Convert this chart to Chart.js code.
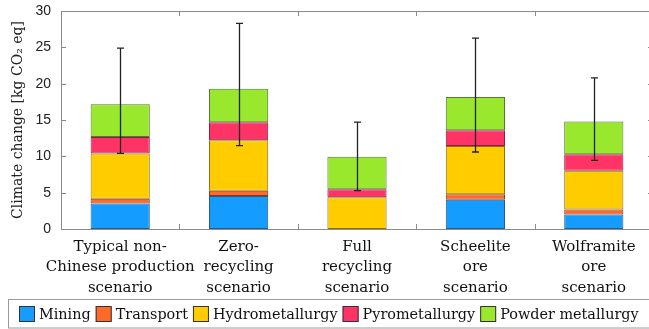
<!DOCTYPE html>
<html>
<head>
<meta charset="utf-8">
<script src="https://cdn.jsdelivr.net/npm/chart.js@4"></script>
<style>
  html, body { margin: 0; padding: 0; background: #fff; overflow: hidden; }
</style>
</head>
<body>
<canvas id="lcaChart" width="653" height="329"></canvas>
<script>
// Scenario labels (multi-line)
const scenarios = [
    ["Typical non-", "Chinese production", "scenario"],
    ["Zero-", "recycling", "scenario"],
    ["Full", "recycling", "scenario"],
    ["Scheelite", "ore", "scenario"],
    ["Wolframite", "ore", "scenario"],
];

// Stage contributions, kg CO2 eq
const mining = [3.5, 4.54, 0, 4.04, 1.98];
const transport = [0.68, 0.74, 0, 0.73, 0.69];
const hydrometallurgy = [6.2, 6.92, 4.36, 6.65, 5.36];
const pyrometallurgy = [2.28, 2.48, 1.1, 2.16, 2.25];
const powderMetallurgy = [4.5, 4.62, 4.5, 4.58, 4.53];

// Uncertainty range of the totals
const errLow = [10.4, 11.47, 5.28, 10.6, 9.45];
const errHigh = [24.9, 28.3, 14.7, 26.27, 20.8];

const yTicks = [0, 5, 10, 15, 20, 25, 30];

const serif = "'DejaVu Serif', serif";
const LEGEND_H = 30;

// Error bars drawn on top of the stacks
const errorBars = {
    id: "errorBars",
    afterDatasetsDraw(chart) {
        const ctx = chart.ctx;
        const x = chart.scales.x;
        const y = chart.scales.y;
        ctx.save();
        ctx.strokeStyle = "#222";
        ctx.lineWidth = 1.3;
        errLow.forEach((lo, i) => {
            const px = Math.round(x.getPixelForValue(i)) + 0.5;
            const yLo = y.getPixelForValue(lo);
            const yHi = y.getPixelForValue(errHigh[i]);
            ctx.beginPath();
            ctx.moveTo(px, yLo);
            ctx.lineTo(px, yHi);
            ctx.moveTo(px - 3.5, yLo);
            ctx.lineTo(px + 3.5, yLo);
            ctx.moveTo(px - 3.5, yHi);
            ctx.lineTo(px + 3.5, yHi);
            ctx.stroke();
        });
        ctx.restore();
    },
};

// Box around plot, inward ticks, and the boxed legend strip
const frame = {
    id: "frame",
    afterDraw(chart) {
        const ctx = chart.ctx;
        const a = chart.chartArea;
        const x = chart.scales.x;
        const y = chart.scales.y;
        ctx.save();
        ctx.strokeStyle = "#8a8a8a";
        ctx.lineWidth = 1;
        ctx.strokeRect(a.left + 0.5, a.top + 0.5, a.right - a.left, a.bottom - a.top);
        ctx.beginPath();
        for (let i = 0; i < scenarios.length - 1; i++) {
            const px = Math.round((x.getPixelForValue(i) + x.getPixelForValue(i + 1)) / 2) + 0.5;
            ctx.moveTo(px, a.bottom);
            ctx.lineTo(px, a.bottom - 5);
            ctx.moveTo(px, a.top);
            ctx.lineTo(px, a.top + 5);
        }
        yTicks.slice(1, -1).forEach((v) => {
            const py = Math.round(y.getPixelForValue(v)) + 0.5;
            ctx.moveTo(a.left, py);
            ctx.lineTo(a.left + 5, py);
            ctx.moveTo(a.right, py);
            ctx.lineTo(a.right - 5, py);
        });
        ctx.stroke();

        // legend strip
        const top = chart.height - LEGEND_H;
        ctx.strokeStyle = "#9a9a9a";
        ctx.strokeRect(8.5, top + 0.5, chart.width, LEGEND_H - 1.5);

        ctx.font = "14.4px " + serif;
        ctx.textBaseline = "middle";
        const items = chart.data.datasets.map((d) => ({
            label: d.label,
            fill: d.backgroundColor,
            w: ctx.measureText(d.label).width,
        }));
        const box = 16, gapText = 4, gapItem = 5;
        const total = items.reduce((s, it) => s + box + gapText + it.w, 0) + gapItem * (items.length - 1);
        let cx = Math.round(329 - total / 2);
        const cy = top + LEGEND_H / 2;
        items.forEach((it) => {
            ctx.fillStyle = it.fill;
            ctx.fillRect(cx, cy - box / 2, box, box);
            ctx.strokeStyle = "#333";
            ctx.strokeRect(cx + 0.5, cy - box / 2 + 0.5, box - 1, box - 1);
            ctx.fillStyle = "#111";
            ctx.fillText(it.label, cx + box + gapText, cy + 1);
            cx += box + gapText + it.w + gapItem;
        });
        ctx.restore();
    },
};

const ctx = document.getElementById("lcaChart").getContext("2d");

new Chart(ctx, {
    type: "bar",
    data: {
        labels: scenarios,
        datasets: [
            { label: "Mining", data: mining, backgroundColor: "#149dff", borderColor: "#2a5a86" },
            { label: "Transport", data: transport, backgroundColor: "#ff6a2a", borderColor: "#8a3a1a" },
            { label: "Hydrometallurgy", data: hydrometallurgy, backgroundColor: "#ffcc00", borderColor: "#8a7020" },
            { label: "Pyrometallurgy", data: pyrometallurgy, backgroundColor: "#ff3366", borderColor: "#8a2040" },
            { label: "Powder metallurgy", data: powderMetallurgy, backgroundColor: "#99e82e", borderColor: "#557a2a" },
        ].map((d) => ({ ...d, borderWidth: 1, borderSkipped: false, barPercentage: 0.5, categoryPercentage: 1 })),
    },
    options: {
        responsive: false,
        animation: false,
        layout: { padding: { top: 0, left: 0, right: 0, bottom: LEGEND_H } },
        plugins: {
            tooltip: { enabled: false },
            legend: { display: false },
        },
        scales: {
            x: {
                stacked: true,
                grid: { display: false, drawTicks: false },
                border: { display: false },
                ticks: {
                    color: "#111",
                    font: { family: serif, size: 15, lineHeight: 1.35 },
                    padding: 8,
                    maxRotation: 0,
                    autoSkip: false,
                },
                afterFit(scale) {
                    scale.height = 70;
                },
            },
            y: {
                stacked: true,
                min: 0,
                max: 30,
                grid: { display: false, drawTicks: false },
                border: { display: false },
                afterBuildTicks(scale) {
                    scale.ticks = yTicks.map((v) => ({ value: v }));
                },
                ticks: {
                    color: "#222",
                    // small line height keeps the top label from pushing the plot down
                    font: { family: "'Liberation Sans', Arial, sans-serif", size: 14, lineHeight: 0.15 },
                    padding: 10,
                },
                title: {
                    display: true,
                    text: "Climate change [kg CO\u2082 eq]",
                    color: "#222",
                    font: { family: serif, size: 14 },
                    padding: { top: 10, bottom: 0 },
                },
                afterFit(scale) {
                    scale.width = 61;
                },
            },
        },
    },
    plugins: [errorBars, frame],
});
</script>
</body>
</html>
